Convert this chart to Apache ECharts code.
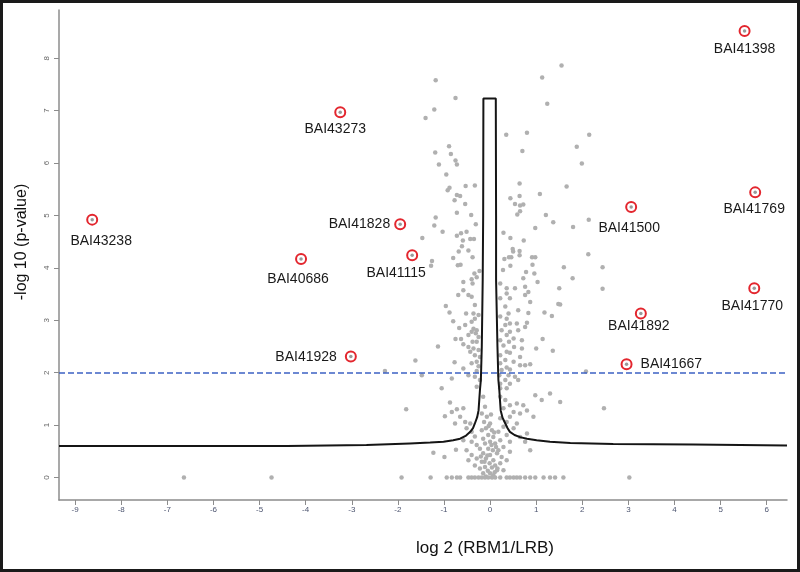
<!DOCTYPE html>
<html>
<head>
<meta charset="utf-8">
<script src="https://cdn.jsdelivr.net/npm/echarts@6/dist/echarts.min.js"></script>
<style>html,body{margin:0;padding:0;background:#fff;}#c{width:800px;height:572px;}</style>
</head>
<body>
<div id="c"></div>
<script>
// ---- data ----
const xTicks = [-9,-8,-7,-6,-5,-4,-3,-2,-1,0,1,2,3,4,5,6];
const yTicks = [0,1,2,3,4,5,6,7,8];
const pThreshold = 2;

const labelNames = ['BAI41398','BAI43273','BAI43238','BAI41828','BAI40686','BAI41115','BAI41500','BAI41769','BAI41770','BAI41892','BAI41667','BAI41928'];
const labelX = [5.52,-3.25,-8.63,-1.95,-4.10,-1.69,3.06,5.75,5.73,3.27,2.96,-3.02];
const labelY = [8.52,6.97,4.92,4.83,4.17,4.24,5.16,5.44,3.61,3.13,2.16,2.31];

const curvePoints = [
 [-9.35,0.60],[-4.41,0.60],[-4.41,0.62],[-2.68,0.62],[-2.68,0.635],[-1.74,0.65],[-1.30,0.665],[-1.01,0.68],
 [-0.80,0.71],[-0.65,0.74],[-0.52,0.80],[-0.43,0.87],[-0.37,0.94],[-0.33,1.03],[-0.28,1.15],[-0.25,1.28],[-0.22,1.67],
 [-0.20,1.86],[-0.18,2.49],[-0.16,3.77],[-0.15,5.0],[-0.145,7.23],[0.124,7.23],[0.13,5.0],[0.13,3.77],
 [0.16,2.49],[0.18,1.86],[0.20,1.67],[0.23,1.28],[0.27,1.14],[0.33,1.03],[0.38,0.94],[0.43,0.87],[0.53,0.81],[0.65,0.77],
 [0.80,0.74],[1.01,0.71],[1.30,0.68],[1.74,0.66],[2.67,0.64],[4.41,0.63],[4.41,0.62],[6.44,0.61]
];

const grayPoints = [
 [-1.18,7.58],[-0.75,7.24],[-1.21,7.02],[-1.40,6.86],[-0.89,6.32],[-1.19,6.20],[-0.85,6.17],[-0.75,6.05],[-1.11,5.97],[-0.72,5.97],
 [1.55,7.86],[1.13,7.63],[1.24,7.13],[0.35,6.54],[0.80,6.58],[0.70,6.23],
 [2.15,6.54],[1.88,6.31],[1.99,5.99],[1.66,5.55],[2.14,4.92],[1.80,4.78],[2.13,4.26],[2.44,4.01],[1.60,4.01],[1.79,3.80],[2.44,3.60],[1.52,3.30],[2.08,2.02],[1.52,1.44],[2.47,1.32],
 [-0.95,5.78],[-0.88,5.53],[-0.92,5.48],[-0.53,5.56],[-0.33,5.57],[-0.72,5.39],[-0.65,5.37],[-0.77,5.29],[-0.54,5.22],[-0.72,5.05],[-0.41,5.01],[-1.18,4.96],[-1.21,4.81],[-0.31,4.83],[-1.03,4.69],[-1.47,4.57],[-0.72,4.61],[-0.63,4.66],[-0.51,4.69],[-0.59,4.52],[-0.43,4.55],[-0.35,4.55],[-0.61,4.41],[-0.68,4.31],[-0.47,4.33],[-0.80,4.19],[-0.38,4.20],[-1.26,4.13],[-1.28,4.04],[-0.70,4.05],[-0.64,4.06],[-0.34,3.89],[-0.23,3.94],[-0.40,3.78],[-0.29,3.82],
 [0.64,5.61],[0.44,5.33],[0.64,5.37],[1.08,5.41],[0.54,5.22],[0.65,5.19],[0.72,5.21],[0.65,5.08],[0.59,5.02],[1.21,5.01],[1.37,4.87],[0.98,4.76],[0.29,4.67],[0.44,4.57],[0.73,4.52],[0.49,4.36],[0.50,4.31],[0.64,4.32],[0.64,4.24],[0.31,4.17],[0.41,4.20],[0.46,4.20],[0.91,4.20],[0.98,4.20],[0.44,4.04],[0.92,4.06],[0.28,3.96],[0.78,3.92],[0.96,3.89],[0.72,3.80],
 [-0.58,3.73],[-0.38,3.70],[-0.58,3.57],[-0.69,3.48],[-0.47,3.48],[-0.40,3.45],[-0.96,3.27],[-0.33,3.29],[-0.88,3.15],[-0.52,3.13],[-0.36,3.13],[-0.25,3.10],[-0.33,3.03],[-0.80,2.98],[-0.40,2.97],[-0.54,2.91],[-0.67,2.85],[-0.36,2.84],[-0.29,2.81],[-0.40,2.78],[-0.31,2.75],[-0.47,2.72],[-0.25,2.68],[-0.75,2.64],[-0.63,2.64],[-0.38,2.59],[-0.29,2.59],[-1.13,2.50],[-0.47,2.49],[-0.58,2.54],[-0.36,2.46],[-0.25,2.43],[-0.43,2.40],[-0.33,2.33],[-0.22,2.30],[-1.62,2.23],[-0.77,2.20],[-0.29,2.21],[-0.40,2.18],[-0.25,2.12],[-0.58,2.08],[-0.29,2.03],[-1.48,1.95],[-0.83,1.89],[-0.47,1.95],[-0.33,1.92],[-0.22,1.86],[-1.05,1.70],[-0.29,1.73],
 [0.22,3.70],[0.36,3.61],[0.54,3.61],[0.76,3.64],[1.03,3.73],[1.50,3.61],[0.36,3.51],[0.76,3.48],[0.83,3.54],[0.22,3.42],[0.43,3.42],[0.87,3.35],[1.48,3.31],[0.33,3.26],[0.61,3.19],[0.40,3.13],[0.83,3.14],[1.18,3.15],[1.34,3.08],[0.22,3.07],[0.36,3.03],[0.43,2.94],[0.33,2.91],[0.58,2.94],[0.80,2.95],[0.76,2.87],[0.25,2.81],[0.43,2.78],[0.61,2.81],[0.36,2.72],[0.51,2.65],[0.22,2.62],[0.41,2.59],[0.69,2.62],[1.14,2.64],[0.29,2.52],[0.52,2.49],[0.69,2.46],[1.00,2.46],[1.36,2.42],[0.36,2.40],[0.43,2.38],[0.22,2.33],[0.65,2.30],[0.33,2.24],[0.51,2.21],[0.22,2.18],[0.65,2.14],[0.76,2.14],[0.87,2.16],[0.36,2.10],[0.25,2.05],[0.43,2.06],[0.20,1.95],[0.40,1.95],[0.54,1.92],[0.61,1.86],[0.33,1.86],[0.22,1.79],[0.43,1.79],[0.36,1.70],[0.22,1.70],
 [-2.28,2.03],[-1.82,1.30],
 [-0.87,1.43],[-0.98,1.17],[-0.83,1.25],[-0.72,1.30],[-0.58,1.32],[-0.65,1.16],[-0.76,1.03],[-0.54,1.06],[-0.43,1.03],[-0.51,0.94],[-0.40,0.87],[-0.33,0.78],[-0.58,0.71],[-0.40,0.68],[-0.29,0.62],[-1.23,0.47],[-0.99,0.39],[-0.74,0.53],[-0.51,0.52],[-0.40,0.43],[-0.47,0.33],[-0.29,0.36],[-0.33,0.23],[-0.22,0.17],
 [-0.15,1.54],[-0.11,1.35],[-0.18,1.22],[-0.07,1.16],[-0.13,1.06],[0.00,1.03],[-0.09,0.94],[-0.18,0.90],[0.04,0.90],[-0.04,0.81],[-0.15,0.74],[0.07,0.77],[0.00,0.68],[-0.11,0.65],[0.11,0.65],[-0.22,0.55],[-0.04,0.55],[0.06,0.52],[-0.15,0.46],[0.15,0.46],[0.00,0.43],[-0.09,0.36],[0.07,0.33],[-0.18,0.30],[-0.01,0.27],[-0.11,0.20],[0.04,0.19],[-0.05,0.13],[-0.15,0.08],[0.00,0.08],[-0.09,0.02],[0.07,0.04],[0.15,0.14],[0.11,0.23],
 [0.02,1.20],[-0.03,0.98],[0.09,0.86],[0.13,0.58],[-0.06,0.42],[0.10,0.10],[-0.20,0.40],[0.03,0.62],[-0.12,0.30],[0.05,0.01],
 [0.22,1.54],[0.33,1.48],[0.43,1.38],[0.58,1.41],[0.72,1.38],[0.98,1.57],[1.30,1.60],[1.12,1.48],[0.29,1.32],[0.51,1.25],[0.65,1.22],[0.80,1.28],[0.43,1.16],[0.22,1.13],[0.36,1.06],[0.58,1.03],[0.94,1.16],[0.29,0.97],[0.51,0.94],[0.80,0.84],[0.18,0.87],[0.36,0.81],[0.65,0.77],[0.22,0.71],[0.43,0.68],[0.76,0.68],[0.29,0.58],[0.18,0.52],[0.43,0.49],[0.87,0.52],[0.25,0.39],[0.36,0.33],[0.22,0.27],[0.16,0.17],[0.29,0.14],
 [-6.64,0],[-4.74,0],[-1.92,0],[-1.29,0],[-0.94,0],[-0.83,0],[-0.72,0],[-0.65,0],[-0.47,0],[-0.40,0],[-0.33,0],[-0.25,0],[-0.18,0],[-0.11,0],[-0.04,0],[0.04,0],[0.11,0],[0.22,0],[0.36,0],[0.43,0],[0.51,0],[0.58,0],[0.65,0],[0.76,0],[0.87,0],[0.98,0],[1.16,0],[1.30,0],[1.41,0],[1.59,0],[3.02,0]
];

// ---- layout of the point labels (style, not data) ----
const labelLayout = {
  BAI41398:{align:'center',offset:[0,18]},
  BAI43273:{align:'center',offset:[-5,17]},
  BAI43238:{align:'center',offset:[9,22]},
  BAI41828:{align:'right',offset:[-10,0]},
  BAI40686:{align:'center',offset:[-3,20]},
  BAI41115:{align:'center',offset:[-16,18]},
  BAI41500:{align:'center',offset:[-2,21]},
  BAI41769:{align:'center',offset:[-1,17]},
  BAI41770:{align:'center',offset:[-2,18]},
  BAI41892:{align:'center',offset:[-2,13]},
  BAI41667:{align:'left',offset:[14,0]},
  BAI41928:{align:'right',offset:[-14,1]}
};

const FONT = '"Liberation Sans", Arial, Helvetica, sans-serif';
const labelStyle = {fontSize:14,color:'#1a1a1a',fontFamily:FONT,textBorderWidth:0,textBorderColor:'transparent',textShadowBlur:0};
const hiData = labelNames.map((n,i)=>({
  name:n, value:[labelX[i],labelY[i]],
  label:Object.assign({show:true, formatter:n, position:'inside', align:labelLayout[n].align, verticalAlign:'middle', offset:labelLayout[n].offset}, labelStyle)
}));
const hiDots = labelNames.map((n,i)=>[labelX[i],labelY[i]]);

const chart = echarts.init(document.getElementById('c'), null, {renderer:'canvas'});
chart.setOption({
  animation:false,
  backgroundColor:'#fff',
  grid:{left:59,right:13,top:10,bottom:72,containLabel:false,outerBoundsMode:'none'},
  xAxis:{
    type:'value', min:-9.35, max:6.44,
    splitLine:{show:false},
    axisLine:{show:true,onZero:false,lineStyle:{color:'#8c8c8c',width:1.5}},
    axisTick:{show:true,length:5,customValues:xTicks,lineStyle:{color:'#8c8c8c',width:1}},
    axisLabel:{customValues:xTicks,fontSize:8,color:'#4d5570',margin:6,fontFamily:FONT}
  },
  yAxis:{
    type:'value', min:-0.43, max:8.92,
    splitLine:{show:false},
    axisLine:{show:true,onZero:false,lineStyle:{color:'#8c8c8c',width:1.5}},
    axisTick:{show:true,length:5,customValues:yTicks,lineStyle:{color:'#8c8c8c',width:1}},
    axisLabel:{customValues:yTicks,fontSize:8,color:'#666',margin:8,rotate:90,fontFamily:FONT}
  },
  series:[
    {
      type:'scatter', data:grayPoints, symbolSize:4.5, z:2, silent:true,
      itemStyle:{color:'#b0b0b0',opacity:1},
      markLine:{
        silent:true, symbol:['none','none'], label:{show:false},
        lineStyle:{color:'#3d62c4',type:[6,3],width:1.5,opacity:1},
        data:[{yAxis:pThreshold}]
      }
    },
    {
      type:'line', data:curvePoints, showSymbol:false, z:4, silent:true,
      lineStyle:{color:'#151515',width:2}
    },
    {
      type:'scatter', data:hiData, symbolSize:10, z:5, silent:true,
      itemStyle:{color:'#ffffff',borderColor:'#e3262e',borderWidth:2,opacity:1},
      label:Object.assign({show:true}, labelStyle)
    },
    {
      type:'scatter', data:hiDots, symbolSize:3.5, z:6, silent:true,
      itemStyle:{color:'#9a9a9a',opacity:1}
    }
  ],
  graphic:[
    {type:'text', x:485, y:548, style:{text:'log 2 (RBM1/LRB)', font:'17px '+FONT, fill:'#111', align:'center', verticalAlign:'middle'}},
    {type:'text', x:22, y:242, rotation:Math.PI/2, style:{text:'-log 10 (p-value)', font:'16px '+FONT, fill:'#111', align:'center', verticalAlign:'middle'}},
    {type:'rect', shape:{x:1.5,y:1.5,width:797,height:569}, style:{fill:'none',stroke:'#1a1a1a',lineWidth:3}, silent:true}
  ]
});
</script>
</body>
</html>
